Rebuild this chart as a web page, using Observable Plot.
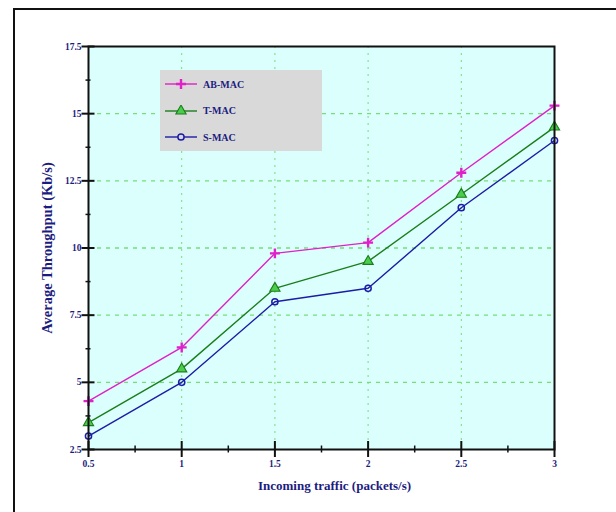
<!DOCTYPE html>
<html>
<head>
<meta charset="utf-8">
<script src="https://cdn.jsdelivr.net/npm/d3@7"></script>
<script src="https://cdn.jsdelivr.net/npm/@observablehq/plot@0.6"></script>
<style>
  body { margin: 0; background: #fff; }
  #wrap { position: relative; width: 616px; height: 512px; overflow: hidden; font-family: "Liberation Serif", "Times New Roman", serif; }
  #border { position: absolute; left: 13px; top: 8px; width: 620px; height: 520px; border-top: 2px solid #111; border-left: 2px solid #111; }
  #legend { position: absolute; left: 160px; top: 70px; width: 162px; height: 81px; background: #d9d9d9; }
  .item { position: absolute; left: 5px; height: 14px; display: flex; align-items: center; font-weight: bold; font-size: 10px; color: #1c1c80; }
  .item svg { margin-right: 6px; }
</style>
</head>
<body>
<div id="wrap">
  <div id="chart"></div>
  <div id="border"></div>
  <div id="legend"></div>
</div>
<script>
const xValues = [0.5, 1, 1.5, 2, 2.5, 3];
const abMac = [4.3, 6.3, 9.8, 10.2, 12.8, 15.3];
const tMac = [3.5, 5.5, 8.5, 9.5, 12.0, 14.5];
const sMac = [3.0, 5.0, 8.0, 8.5, 11.5, 14.0];
const seriesNames = ["AB-MAC", "T-MAC", "S-MAC"];
const xTicks = [0.5, 1, 1.5, 2, 2.5, 3];
const xMinor = [0.75, 1.25, 1.75, 2.25, 2.75];
const yTicks = [2.5, 5, 7.5, 10, 12.5, 15, 17.5];
const yMinor = [3.75, 6.25, 8.75, 11.25, 13.75, 16.25];
const xLabel = "Incoming traffic (packets/s)";
const yLabel = "Average Throughput (Kb/s)";

const styles = {
  "AB-MAC": {stroke: "#e020c8", symbol: "plus", fill: "none", r: 3.3, sw: 2.4},
  "T-MAC": {stroke: "#1a7d1a", symbol: "triangle", fill: "#4ccc4c", r: 3.8, sw: 1.1},
  "S-MAC": {stroke: "#1c1ca8", symbol: "circle", fill: "none", r: 3.1, sw: 1.5}
};
const valuesBySeries = {"AB-MAC": abMac, "T-MAC": tMac, "S-MAC": sMac};
const data = seriesNames.flatMap(s => xValues.map((x, i) => ({series: s, x, y: valuesBySeries[s][i]})));

const navy = "#1c1c80";
const marks = [
  Plot.frame({fill: "#dbfffd", stroke: null}),
  Plot.gridX([1, 1.5, 2, 2.5], {stroke: "#77dd77", strokeOpacity: 1, strokeDasharray: "2,5"}),
  Plot.gridY([5, 7.5, 10, 12.5, 15], {stroke: "#77dd77", strokeOpacity: 1, strokeDasharray: "4,5", strokeWidth: 1.3}),
];
for (const s of seriesNames) {
  const st = styles[s];
  const d = data.filter(e => e.series === s);
  marks.push(Plot.line(d, {x: "x", y: "y", stroke: st.stroke, strokeWidth: 1.4}));
}
for (const s of seriesNames) {
  const st = styles[s];
  const d = data.filter(e => e.series === s);
  marks.push(Plot.dot(d, {x: "x", y: "y", symbol: st.symbol, r: st.r, stroke: st.stroke, fill: st.fill, strokeWidth: st.sw}));
}
marks.push(
  Plot.frame({stroke: "#111", strokeWidth: 2, fill: "none"}),
  // x ticks
  Plot.axisX(xTicks, {tickSize: 16, dy: -8, text: null, stroke: "#111", strokeWidth: 2, label: null}),
  Plot.axisX(xMinor, {tickSize: 7, dy: -3.5, text: null, stroke: "#111", strokeWidth: 1.5, label: null}),
  Plot.axisX(xTicks, {tickSize: 0, tickPadding: 11, tickFormat: d => String(d), fill: navy, fontSize: 9.5, fontWeight: "bold", label: null}),
  // y ticks
  Plot.axisY(yTicks, {tickSize: 13, dx: 6.5, text: null, stroke: "#111", strokeWidth: 2, label: null}),
  Plot.axisY(yMinor, {tickSize: 5, dx: 2.5, text: null, stroke: "#111", strokeWidth: 1.5, label: null}),
  Plot.axisY(yTicks, {tickSize: 0, tickPadding: 7, tickFormat: d => String(d), fill: navy, fontSize: 9.5, fontWeight: "bold", label: null}),
  // axis titles
  Plot.text([yLabel], {frameAnchor: "left", textAnchor: "middle", rotate: -90, dx: -41, fontSize: 14.5, fontWeight: "bold", fill: navy}),
  Plot.text([xLabel], {frameAnchor: "bottom", textAnchor: "middle", dx: 13, dy: 40, fontSize: 13, fontWeight: "bold", fill: navy})
);

const chart = Plot.plot({
  width: 616,
  height: 512,
  marginLeft: 88,
  marginRight: 62,
  marginTop: 46,
  marginBottom: 63,
  style: {fontFamily: "'Liberation Serif', 'Times New Roman', serif", background: "transparent", overflow: "visible"},
  x: {domain: [0.5, 3], axis: null},
  y: {domain: [2.5, 17.5], axis: null},
  marks
});
document.getElementById("chart").appendChild(chart);

// legend
const legend = document.getElementById("legend");
seriesNames.forEach((s, i) => {
  const st = styles[s];
  const item = document.createElement("div");
  item.className = "item";
  item.style.top = (7 + i * 26.5) + "px";
  const sym = d3.symbol().type({plus: d3.symbolPlus, triangle: d3.symbolTriangle, circle: d3.symbolCircle}[st.symbol]).size(st.r * st.r * Math.PI)();
  item.innerHTML = `<svg width="32" height="12"><line x1="0" y1="6" x2="32" y2="6" stroke="${st.stroke}" stroke-width="1.4"/>` +
    `<path transform="translate(16,6)" d="${sym}" fill="${st.fill === 'none' ? '#d9d9d9' : st.fill}" stroke="${st.stroke}" stroke-width="${st.sw}"/></svg><span>${s}</span>`;
  legend.appendChild(item);
});
</script>
</body>
</html>
